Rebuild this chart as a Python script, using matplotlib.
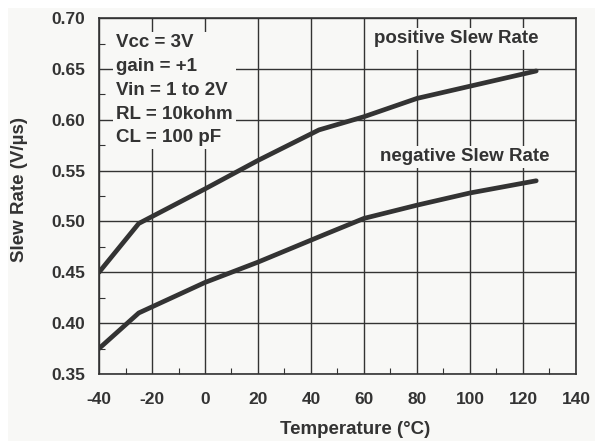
import matplotlib.pyplot as plt
from matplotlib.patches import Rectangle
from matplotlib.ticker import MultipleLocator

plt.rcParams['font.family'] = 'Liberation Sans'
plt.rcParams['font.weight'] = 'bold'
plt.rcParams['axes.labelweight'] = 'bold'
plt.rcParams['axes.unicode_minus'] = False

# data
temp_pos = [-40, -25, 0, 20, 43, 60, 80, 100, 125]
slew_pos = [0.450, 0.498, 0.532, 0.560, 0.590, 0.603, 0.621, 0.633, 0.648]
temp_neg = [-40, -25, 0, 20, 45, 60, 80, 100, 125]
slew_neg = [0.375, 0.410, 0.440, 0.460, 0.487, 0.503, 0.516, 0.528, 0.540]

conditions = "Vcc = 3V\ngain = +1\nVin = 1 to 2V\nRL = 10kohm\nCL = 100 pF"

ink = '#333333'
bg = '#f8f8f6'

fig = plt.figure(figsize=(5.95, 4.41), dpi=100, facecolor='white')
# scanned page: light grey area with a thin white margin top/left
fig.patches.append(Rectangle((8 / 595, 0), 1, 1 - 8 / 441, transform=fig.transFigure,
                             fc=bg, ec='none', zorder=-5))
ax = fig.add_axes([0.1664, 0.152, 0.8016, 0.807])
ax.set_facecolor(bg)

ax.set_xlim(-40, 140)
ax.set_ylim(0.35, 0.70)
ax.xaxis.set_major_locator(MultipleLocator(20))
ax.xaxis.set_minor_locator(MultipleLocator(10))
ax.yaxis.set_major_locator(MultipleLocator(0.05))
ax.yaxis.set_minor_locator(MultipleLocator(0.025))
ax.yaxis.set_major_formatter(lambda v, p: f"{v:.2f}")
ax.grid(True, which='major', color=ink, lw=1.0, zorder=1)
ax.set_axisbelow(True)

ax.tick_params(which='both', direction='in', colors=ink, labelsize=12.5)
ax.tick_params(which='major', length=0)
ax.tick_params(which='minor', length=4, width=0.8)
ax.tick_params(axis='x', pad=13)
ax.tick_params(axis='y', pad=10)
for s in ax.spines.values():
    s.set_color(ink)
    s.set_linewidth(1.2)

ax.plot(temp_pos, slew_pos, color=ink, lw=3.4, zorder=3, solid_capstyle='round')
ax.plot(temp_neg, slew_neg, color=ink, lw=3.4, zorder=3, solid_capstyle='round')

ax.set_xlabel("Temperature (°C)", fontsize=13.5, color=ink)
ax.set_ylabel("Slew Rate (V/µs)", fontsize=13.5, color=ink)
ax.xaxis.set_label_coords(0.537, -0.157)
ax.yaxis.set_label_coords(-0.166, 0.517)
ax.xaxis.label.set_va('center')
ax.yaxis.label.set_va('center')

ax.text(-33.5, 0.684, conditions, fontsize=13.5, color=ink,
        va='top', ha='left', linespacing=1.52, zorder=2,
        bbox=dict(boxstyle='square,pad=0.15', fc=bg, ec='none'))
ax.text(94.7, 0.6795, "positive Slew Rate", fontsize=13.5, color=ink,
        ha='center', va='center', zorder=2,
        bbox=dict(boxstyle='square,pad=0.12', fc=bg, ec='none'))
ax.text(98, 0.5635, "negative Slew Rate", fontsize=13.5, color=ink,
        ha='center', va='center', zorder=2,
        bbox=dict(boxstyle='square,pad=0.12', fc=bg, ec='none'))

fig.savefig("out.png", dpi=100, facecolor='white')
